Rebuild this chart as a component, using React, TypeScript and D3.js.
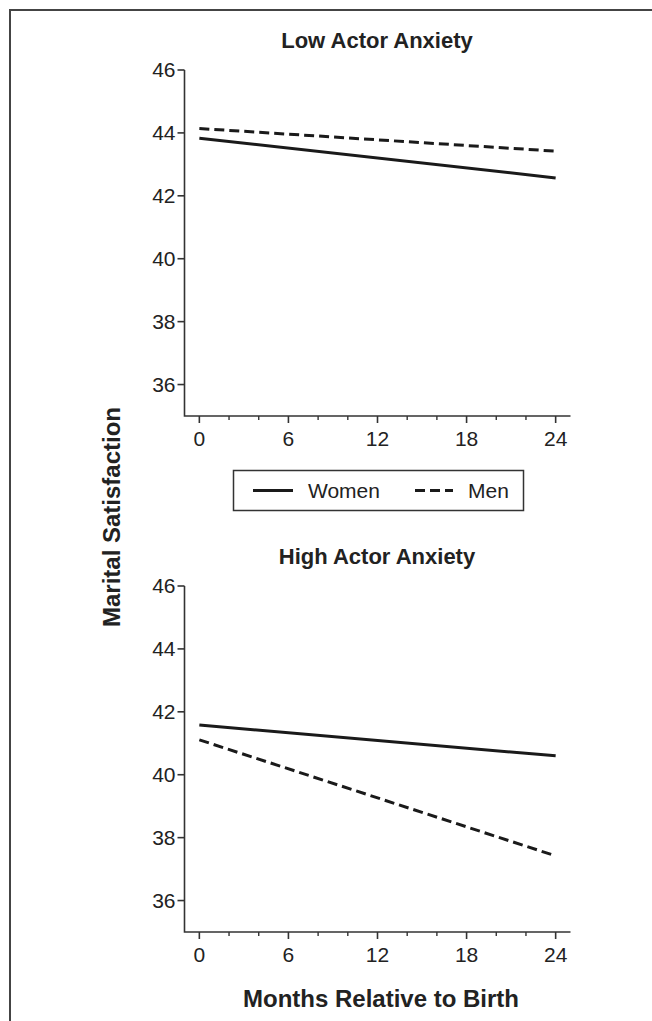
import React from "react";
import * as d3 from "d3";

// Months relative to birth at which each fitted line is evaluated
const months = [0, 24];

// Low actor anxiety panel
const lowWomen = [43.83, 42.57];
const lowMen = [44.14, 43.42];

// High actor anxiety panel
const highWomen = [41.58, 40.6];
const highMen = [41.11, 37.42];

const xTicksMajor = [0, 6, 12, 18, 24];
const xTicksMinor = [2, 4, 8, 10, 14, 16, 20, 22];
const yTicks = [36, 38, 40, 42, 44, 46];

const panelTitles = ["Low Actor Anxiety", "High Actor Anxiety"];
const legendLabels = ["Women", "Men"];

const W = 652;
const H = 1021;
const FONT = "'Liberation Sans', Arial, Helvetica, sans-serif";
const INK = "#222";
const DASH = "10,5";
const TICK_FS = 21;

const x = d3.scaleLinear().domain([-1, 25]).range([184.5, 570.5]);

function Panel({ top, title, women, men }: { top: number; title: string; women: number[]; men: number[] }) {
  const y = d3.scaleLinear().domain([35, 46]).range([top + 346, top]);
  const line = d3
    .line<number>()
    .x((_, i) => x(months[i]))
    .y((d) => y(d));
  const y0 = y(35);
  const xL = x.range()[0];
  const xR = x.range()[1];
  return (
    <g>
      <text x={377} y={top - 22} textAnchor="middle" fontFamily={FONT} fontWeight="bold" fontSize={22} fill={INK}>
        {title}
      </text>
      {/* axes */}
      <path d={`M${xL},${y(46)}V${y0}H${xR}`} fill="none" stroke="#333" strokeWidth={1.6} />
      {yTicks.map((t) => (
        <g key={t}>
          <line x1={xL - 7} x2={xL} y1={y(t)} y2={y(t)} stroke="#333" strokeWidth={1.6} />
          <text x={xL - 9} y={y(t)} dy="0.35em" textAnchor="end" fontFamily={FONT} fontSize={TICK_FS} fill={INK}>
            {t}
          </text>
        </g>
      ))}
      {xTicksMajor.map((t) => (
        <g key={t}>
          <line x1={x(t)} x2={x(t)} y1={y0} y2={y0 + 7} stroke="#333" strokeWidth={1.6} />
          <text x={x(t)} y={y0 + 30} textAnchor="middle" fontFamily={FONT} fontSize={TICK_FS} fill={INK}>
            {t}
          </text>
        </g>
      ))}
      {xTicksMinor.map((t) => (
        <line key={t} x1={x(t)} x2={x(t)} y1={y0} y2={y0 + 4} stroke="#333" strokeWidth={1.4} />
      ))}
      <path d={line(women) ?? ""} fill="none" stroke="#1a1a1a" strokeWidth={3} />
      <path d={line(men) ?? ""} fill="none" stroke="#1a1a1a" strokeWidth={3} strokeDasharray={DASH} />
    </g>
  );
}

export default function App() {
  return (
    <svg width={W} height={H} style={{ position: "absolute", left: 0, top: 0, background: "#fff" }}>
      <rect x={0} y={0} width={W} height={H} fill="#fff" />
      {/* frame (open to the right and bottom) */}
      <path d={`M10,${H}V10H${W}`} fill="none" stroke="#444" strokeWidth={2} />
      <Panel top={70} title={panelTitles[0]} women={lowWomen} men={lowMen} />
      <Panel top={586} title={panelTitles[1]} women={highWomen} men={highMen} />
      {/* legend */}
      <rect x={233.5} y={470.5} width={290} height={40} fill="#fff" stroke="#333" strokeWidth={1.5} />
      <line x1={253} x2={293} y1={490.5} y2={490.5} stroke="#1a1a1a" strokeWidth={3} />
      <text x={308} y={490.5} dy="0.36em" fontFamily={FONT} fontSize={TICK_FS} fill={INK}>
        {legendLabels[0]}
      </text>
      <line x1={415} x2={453} y1={490.5} y2={490.5} stroke="#1a1a1a" strokeWidth={3} strokeDasharray={DASH} />
      <text x={468} y={490.5} dy="0.36em" fontFamily={FONT} fontSize={TICK_FS} fill={INK}>
        {legendLabels[1]}
      </text>
      {/* axis titles */}
      <text
        transform="translate(120,517) rotate(-90)"
        textAnchor="middle"
        fontFamily={FONT}
        fontWeight="bold"
        fontSize={24}
        fill={INK}
      >
        Marital Satisfaction
      </text>
      <text x={381} y={1007} textAnchor="middle" fontFamily={FONT} fontWeight="bold" fontSize={24} fill={INK}>
        Months Relative to Birth
      </text>
    </svg>
  );
}
